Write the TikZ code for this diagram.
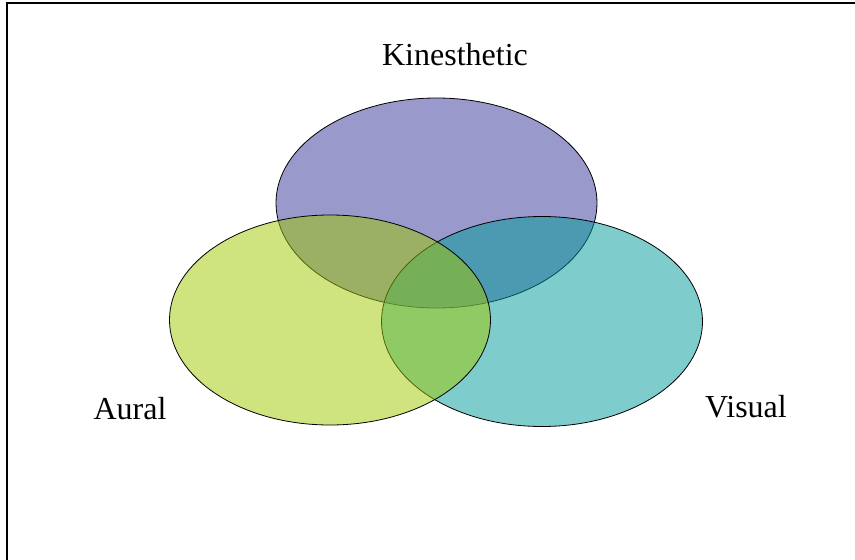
\documentclass[tikz,border=0pt]{standalone}
\usepackage{fontspec}
\setmainfont{Liberation Serif}
\usetikzlibrary{shapes.geometric}

\definecolor{kinblue}{RGB}{51,51,153}
\definecolor{visteal}{RGB}{0,153,153}
\definecolor{aurgreen}{RGB}{160,200,0}

\begin{document}
\begin{tikzpicture}[x=1pt, y=-1pt,
    set/.style={ellipse, draw=black, line width=0.8pt, fill opacity=0.5, inner sep=0pt,
                minimum width=321pt, minimum height=210pt},
    lbl/.style={font=\fontsize{32}{38}\selectfont, inner sep=0pt}]
    \clip (0,0) rectangle (855,560);
    \draw[line width=2.3pt] (7,3.3) rectangle (880,590);

    \node[set, fill=kinblue]  (kin) at (436.5,203) {};
    \node[set, fill=visteal]  (vis) at (542,321.5) {};
    \node[set, fill=aurgreen] (aur) at (330,320)   {};

    \node[lbl] (kinlbl) at (455,55)  {Kinesthetic};
    \node[lbl] (aurlbl) at (130,409) {Aural};
    \node[lbl] (vislbl) at (746,407) {Visual};
\end{tikzpicture}
\end{document}
